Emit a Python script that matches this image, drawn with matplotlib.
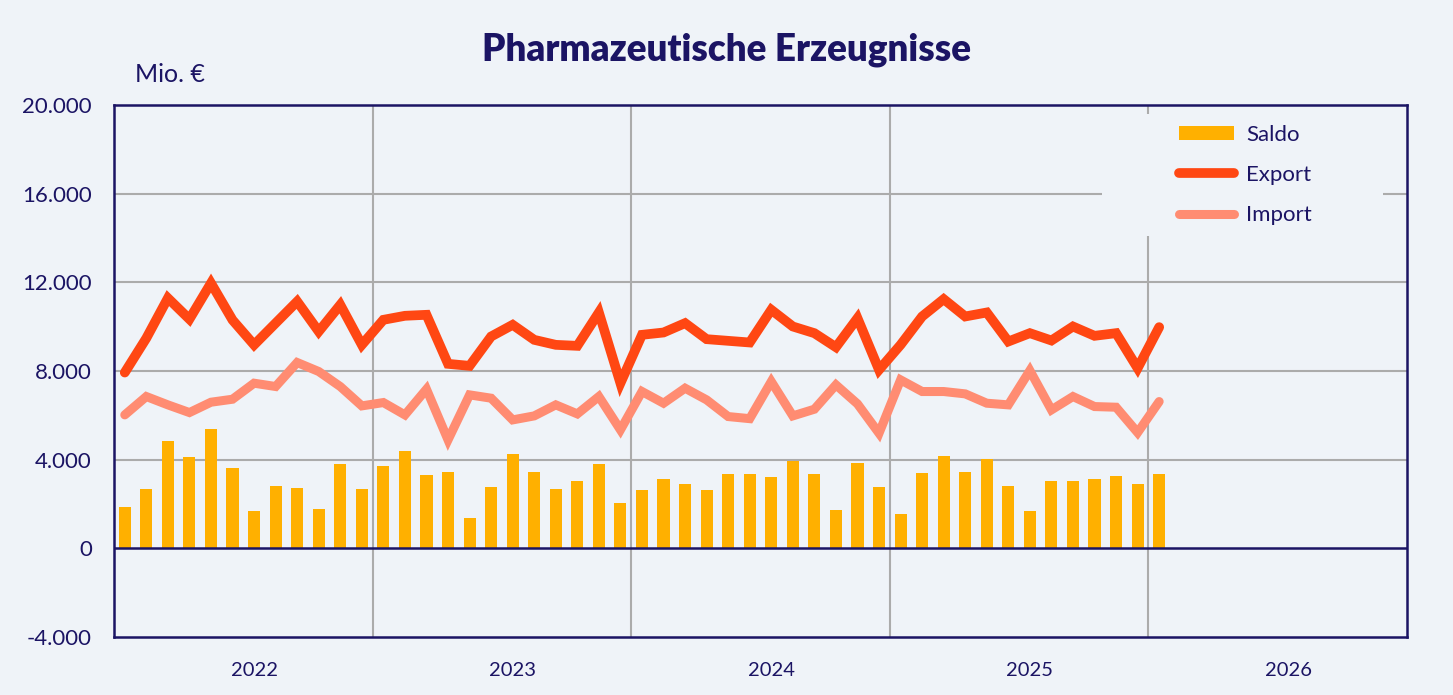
import matplotlib
matplotlib.use("Agg")
import matplotlib.pyplot as plt
from matplotlib.ticker import FuncFormatter, FixedLocator
from matplotlib.patches import Rectangle
import numpy as np

# ---- data (Mio. €), monthly Jan 2022 .. Jan 2026 ----
saldo = [1866, 2679, 4861, 4139, 5373, 3627, 1686, 2814, 2739, 1791, 3793, 2664,
         3732, 4380, 3311, 3462, 1370, 2769, 4259, 3431, 2694, 3040, 3808, 2062,
         2634, 3115, 2905, 2634, 3371, 3371, 3206, 3928, 3356, 1731, 3838, 2784,
         1550, 3401, 4169, 3446, 4048, 2814, 1686, 3055, 3055, 3130, 3281, 2890,
         3371]
export = [7931, 9481, 11288, 10339, 11965, 10300, 9180, 10159, 11137, 9782, 10987, 9180,
          10309, 10490, 10535, 8323, 8232, 9557, 10084, 9406, 9180, 9135, 10640, 7450,
          9632, 9737, 10159, 9436, 9361, 9286, 10761, 10008, 9707, 9075, 10385, 8052,
          9180, 10460, 11242, 10460, 10640, 9331, 9707, 9376, 10008, 9587, 9707, 8127,
          9978]
imports = [6020, 6848, 6472, 6125, 6592, 6727, 7450, 7300, 8383, 7977, 7299, 6426,
           6577, 6020, 7179, 4891, 6923, 6773, 5794, 5975, 6472, 6065, 6848, 5343,
           7074, 6547, 7224, 6697, 5945, 5850, 7525, 5975, 6276, 7375, 6517, 5192,
           7600, 7074, 7074, 6968, 6547, 6472, 8022, 6246, 6848, 6396, 6366, 5222,
           6622]
years = ["2022", "2023", "2024", "2025", "2026"]
yticks = [-4000, 0, 4000, 8000, 12000, 16000, 20000]

BG = "#EFF3F8"
NAVY = "#1B1464"
GRID = "#ABABAB"
C_SALDO = "#FFB000"
C_EXP = "#FF4713"
C_IMP = "#FF8C72"

plt.rcParams['font.family'] = ['Lato', 'DejaVu Sans']

W, H = 1453, 695
fig = plt.figure(figsize=(W / 100, H / 100), dpi=100, facecolor=BG)
ax = fig.add_axes([114 / W, (H - 637) / H, (1407 - 114) / W, (637 - 105) / H])
ax.set_facecolor(BG)

n_months = 12 * len(years)
x = np.arange(len(saldo))

ax.set_xlim(-0.5, n_months - 0.5)
ax.set_ylim(yticks[0], yticks[-1])

# grid
for yv in yticks[1:-1]:
    if yv != 0:
        ax.axhline(yv, color=GRID, lw=1.5, zorder=1)
for i in range(1, len(years)):
    ax.axvline(12 * i - 0.5, color=GRID, lw=1.5, zorder=1)

# legend background box (covers the grid)
ax.add_patch(Rectangle((1102 / W, 1 - 236 / H), (1383 - 1102) / W, (236 - 114) / H,
                       transform=fig.transFigure, facecolor=BG, edgecolor='none', zorder=2))

hs = ax.bar(x, saldo, width=0.56, color=C_SALDO, zorder=3, label="Saldo")
he, = ax.plot(x, export, color=C_EXP, lw=7.0, solid_capstyle='round', solid_joinstyle='miter', zorder=4, label="Export")
hi, = ax.plot(x, imports, color=C_IMP, lw=6.5, solid_capstyle='round', solid_joinstyle='miter', zorder=4, label="Import")
ax.axhline(0, color=NAVY, lw=1.8, zorder=5)

for s in ax.spines.values():
    s.set_color(NAVY)
    s.set_linewidth(1.8)
    s.set_zorder(6)

ax.yaxis.set_major_locator(FixedLocator(yticks))
ax.yaxis.set_major_formatter(FuncFormatter(lambda v, p: f"{int(v):,}".replace(",", ".")))
ax.set_xticks([12 * i + 6 for i in range(len(years))])
ax.set_xticklabels(years)
ax.tick_params(axis='both', length=0, colors=NAVY)
ax.tick_params(axis='y', pad=16, labelsize=16)
ax.tick_params(axis='x', pad=18, labelsize=14.5)

fig.text(727 / W, 1 - 50 / H, "Pharmazeutische Erzeugnisse", ha='center', va='center',
         fontsize=26.5, fontweight='heavy', color=NAVY)
fig.text(135 / W, 1 - 74 / H, "Mio. €", ha='left', va='center', fontsize=18, color=NAVY)

leg = ax.legend([hs, he, hi], ["Saldo", "Export", "Import"],
                loc='upper left', bbox_to_anchor=(1172 / W, 1 - 118 / H), bbox_transform=fig.transFigure,
                frameon=False, fontsize=16,
                handlelength=2.5, handleheight=0.6, handletextpad=0.55, labelspacing=0.91,
                borderpad=0.3, borderaxespad=0)
leg.set_zorder(7)
for t in leg.get_texts():
    t.set_color(NAVY)

fig.savefig("out.png", dpi=100, facecolor=BG)
